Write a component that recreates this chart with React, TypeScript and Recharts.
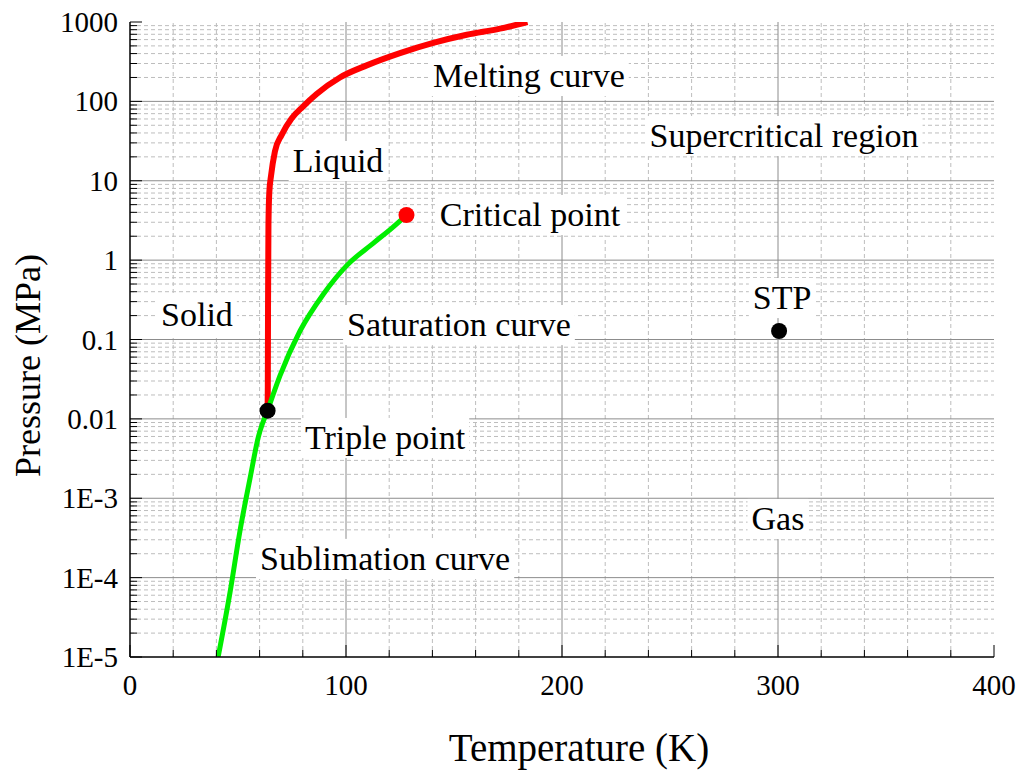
import { ComposedChart, Line, Scatter, XAxis, YAxis, ReferenceLine, ReferenceDot } from 'recharts'

const FONT = "'Liberation Serif', 'Times New Roman', serif"

// nitrogen phase boundaries, T in K, P in MPa
const meltT = [63.7, 63.8, 63.9, 64.1, 64.5, 65.3, 67.1, 70.2, 74.8, 80.2, 86.4, 97.2, 109.6, 125.0, 140.4, 155.9, 171.3, 184.0]
const meltP = [0.0127, 0.025, 0.26, 2.8, 7.2, 11.6, 23.5, 37.8, 60.8, 86.7, 124, 200, 284, 405, 545, 690, 824, 1000]

const subT = [40.8, 46.3, 50.9, 55.6, 59.4, 63.7]
const subP = [1.0e-5, 6.5e-5, 3.86e-4, 1.8e-3, 5.9e-3, 0.0127]

const satT = [63.7, 69.4, 78.7, 89.5, 100.3, 112.7, 121.9, 128.0]
const satP = [0.0127, 0.0348, 0.128, 0.372, 0.853, 1.64, 2.63, 3.7]

const triplePoint = [{ T: 63.7, P: 0.0127 }]
const criticalPoint = [{ T: 128.0, P: 3.7 }]
const stpPoint = [{ T: 300.5, P: 0.128 }]

const xMajor = [0, 100, 200, 300, 400]
const xLabels = ['0', '100', '200', '300', '400']
const xMinor = [20, 40, 60, 80, 120, 140, 160, 180, 220, 240, 260, 280, 320, 340, 360, 380]

const yDecades = [1e-5, 1e-4, 1e-3, 0.01, 0.1, 1, 10, 100, 1000]
const yLabels = ['1E-5', '1E-4', '1E-3', '0.01', '0.1', '1', '10', '100', '1000']
const yMinor = yDecades.slice(0, -1).flatMap((d) => [2, 3, 4, 5, 6, 7, 8, 9].map((m) => +(d * m).toPrecision(3)))

const annotations = [
  { text: 'Melting curve', T: 184.7, P: 209 },
  { text: 'Supercritical region', T: 302.8, P: 36.6 },
  { text: 'Liquid', T: 96.3, P: 17.7 },
  { text: 'Critical point', T: 185.2, P: 3.7 },
  { text: 'Solid', T: 31.0, P: 0.204 },
  { text: 'STP', T: 301.9, P: 0.333 },
  { text: 'Saturation curve', T: 152.3, P: 0.152 },
  { text: 'Triple point', T: 118.1, P: 0.00574 },
  { text: 'Gas', T: 300.0, P: 5.48e-4 },
  { text: 'Sublimation curve', T: 118.1, P: 1.72e-4 },
]

const toRows = (ts: number[], ps: number[]) => ts.map((T, i) => ({ T, P: ps[i] }))
const meltData = toRows(meltT, meltP)
const subData = toRows(subT, subP)
const satData = toRows(satT, satP)

const allYTicks = [...yDecades, ...yMinor].sort((a, b) => a - b)
const allXTicks = [...xMajor, ...xMinor].sort((a, b) => a - b)

const ANNOT_SIZE = 34
const TICK_SIZE = 29
let ctx: CanvasRenderingContext2D | null = null
function textWidth(s: string, size: number) {
  if (!ctx) ctx = document.createElement('canvas').getContext('2d')
  if (!ctx) return s.length * size * 0.45
  ctx.font = `${size}px "Liberation Serif"`
  return ctx.measureText(s).width
}

function Annotation({ cx, cy, text }: { cx: number; cy: number; text: string }) {
  const w = textWidth(text, ANNOT_SIZE) + 8
  const h = ANNOT_SIZE * 1.18
  return (
    <g>
      <rect x={cx - w / 2} y={cy - h / 2} width={w} height={h} fill="#fff" />
      <text x={cx} y={cy + ANNOT_SIZE * 0.33} textAnchor="middle" fontSize={ANNOT_SIZE} fontFamily={FONT} fill="#000">
        {text}
      </text>
    </g>
  )
}

const isDecade = (v: number) => yDecades.includes(v)

function BottomTick({ x, y, payload }: any) {
  const major = xMajor.includes(payload.value)
  return (
    <g>
      <line x1={x} x2={x} y1={y} y2={y - (major ? 12 : 7)} stroke="#000" />
      {major && (
        <text x={x} y={y + 38} textAnchor="middle" fontSize={TICK_SIZE} fontFamily={FONT} fill="#000">
          {xLabels[xMajor.indexOf(payload.value)]}
        </text>
      )}
    </g>
  )
}

function TopTick({ x, y, payload }: any) {
  const major = xMajor.includes(payload.value)
  return <line x1={x} x2={x} y1={y} y2={y + (major ? 12 : 7)} stroke="#000" />
}

function LeftTick({ x, y, payload }: any) {
  const major = isDecade(payload.value)
  return (
    <g>
      <line x1={x} x2={x + (major ? 12 : 7)} y1={y} y2={y} stroke="#000" />
      {major && (
        <text x={x - 12} y={y + 10} textAnchor="end" fontSize={TICK_SIZE} fontFamily={FONT} fill="#000">
          {yLabels[yDecades.indexOf(payload.value)]}
        </text>
      )}
    </g>
  )
}

function RightTick({ x, y, payload }: any) {
  const major = isDecade(payload.value)
  return <line x1={x} x2={x - (major ? 12 : 7)} y1={y} y2={y} stroke="#000" />
}

const frame = { stroke: '#000', strokeWidth: 1.5 }

export default function App() {
  return (
    <div style={{ position: 'absolute', left: 0, top: 0, background: '#fff' }}>
      <ComposedChart width={1022} height={774} margin={{ top: 22, right: 28, left: 0, bottom: 0 }}>
        <XAxis
          dataKey="T"
          type="number"
          domain={[0, 400]}
          allowDataOverflow
          ticks={allXTicks}
          interval={0}
          height={117}
          tickSize={0}
          tickMargin={0}
          tickLine={false}
          axisLine={frame}
          tick={<BottomTick />}
          label={{
            content: (p: any) => (
              <text
                x={p.viewBox.x + p.viewBox.width / 2 + 17}
                y={p.viewBox.y + 104}
                textAnchor="middle"
                fontSize={39}
                fontFamily={FONT}
                fill="#000"
              >
                Temperature (K)
              </text>
            ),
          }}
        />
        <XAxis
          xAxisId="top"
          orientation="top"
          type="number"
          domain={[0, 400]}
          allowDataOverflow
          ticks={allXTicks}
          interval={0}
          height={0}
          tickSize={0}
          tickMargin={0}
          tickLine={false}
          axisLine={frame}
          tick={<TopTick />}
        />
        <YAxis
          type="number"
          scale="log"
          domain={[1e-5, 1000]}
          allowDataOverflow
          ticks={allYTicks}
          interval={0}
          width={130}
          tickSize={0}
          tickMargin={0}
          tickLine={false}
          axisLine={frame}
          tick={<LeftTick />}
          label={{
            content: (p: any) => {
              const cy = p.viewBox.y + p.viewBox.height / 2 + 26
              return (
                <text
                  x={40}
                  y={cy}
                  transform={`rotate(-90 40 ${cy})`}
                  textAnchor="middle"
                  fontSize={36}
                  fontFamily={FONT}
                  fill="#000"
                >
                  Pressure (MPa)
                </text>
              )
            },
          }}
        />
        <YAxis
          yAxisId="right"
          orientation="right"
          type="number"
          scale="log"
          domain={[1e-5, 1000]}
          allowDataOverflow
          ticks={allYTicks}
          interval={0}
          width={0}
          tickSize={0}
          tickMargin={0}
          tickLine={false}
          axisLine={frame}
          tick={<RightTick />}
        />

        {/* grid: dashed minor lines, solid major lines */}
        {xMinor.map((v) => (
          <ReferenceLine key={`xm${v}`} x={v} stroke="#bdbdbd" strokeDasharray="4 3" />
        ))}
        {yMinor.map((v) => (
          <ReferenceLine key={`ym${v}`} y={v} stroke="#bdbdbd" strokeDasharray="4 3" />
        ))}
        {xMajor.slice(1, -1).map((v) => (
          <ReferenceLine key={`xM${v}`} x={v} stroke="#8c8c8c" />
        ))}
        {yDecades.slice(1, -1).map((v) => (
          <ReferenceLine key={`yM${v}`} y={v} stroke="#8c8c8c" />
        ))}

        {annotations.map((a) => (
          <ReferenceDot
            key={a.text}
            x={a.T}
            y={a.P}
            r={0}
            shape={(p: any) => <Annotation cx={p.cx} cy={p.cy} text={a.text} />}
          />
        ))}

        <Line data={meltData} dataKey="P" type="monotone" stroke="#ff0000" strokeWidth={6} dot={false} isAnimationActive={false} />
        <Line data={subData} dataKey="P" type="monotone" stroke="#00ee00" strokeWidth={5} dot={false} isAnimationActive={false} />
        <Line data={satData} dataKey="P" type="monotone" stroke="#00ee00" strokeWidth={5} dot={false} isAnimationActive={false} />

        <Scatter data={triplePoint} dataKey="P" isAnimationActive={false}
          shape={(p: any) => <circle cx={p.cx} cy={p.cy} r={8} fill="#000" />} />
        <Scatter data={criticalPoint} dataKey="P" isAnimationActive={false}
          shape={(p: any) => <circle cx={p.cx} cy={p.cy} r={8} fill="#ff0000" />} />
        <Scatter data={stpPoint} dataKey="P" isAnimationActive={false}
          shape={(p: any) => <circle cx={p.cx} cy={p.cy} r={8} fill="#000" />} />
      </ComposedChart>
    </div>
  )
}
